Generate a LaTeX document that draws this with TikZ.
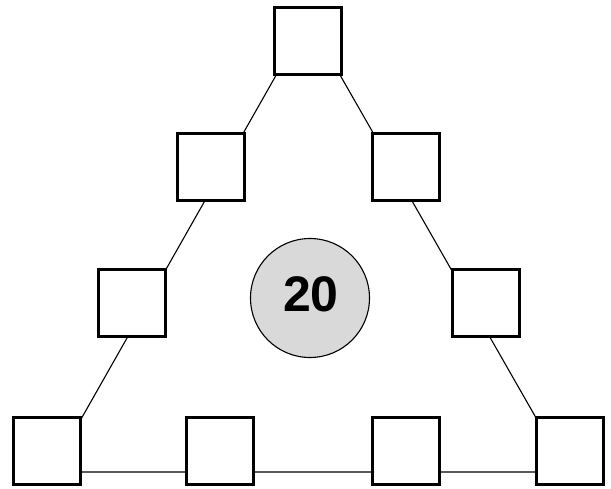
\documentclass[tikz,border=0pt]{standalone}
\usepackage{fontspec}
\setmainfont{Liberation Sans}
\begin{document}
\begin{tikzpicture}[x=1pt,y=-1pt,
  box/.style={draw=black,line width=3.5pt,fill=white,minimum size=67pt,inner sep=0pt},
  edge/.style={draw=black,line width=1.1pt}]
\useasboundingbox (0,0) rectangle (611,488);
\coordinate (apex) at (308,19);
\coordinate (bl) at (51,472);
\coordinate (br) at (567,472);
\draw[edge] (apex) -- (bl) -- (br) -- cycle;
\node[box] (t) at (308,41) {};
\node[box] (l1) at (211,167) {};
\node[box] (r1) at (406,167) {};
\node[box] (l2) at (132,303) {};
\node[box] (r2) at (486,303) {};
\node[box] (b0) at (47,451) {};
\node[box] (b1) at (220,451) {};
\node[box] (b2) at (406,451) {};
\node[box] (b3) at (570,451) {};
\node[draw=black,line width=1.1pt,fill=black!15,circle,minimum size=119pt,inner sep=0pt] (c) at (310,298) {};
\node[font=\fontsize{50}{50}\selectfont\bfseries,inner sep=0pt] (n) at (311,294) {20};
\end{tikzpicture}
\end{document}
